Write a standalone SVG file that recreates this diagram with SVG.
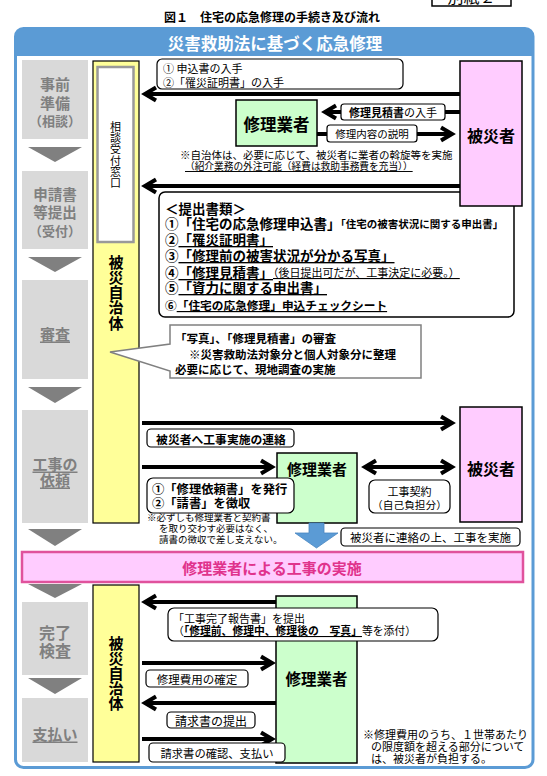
<svg xmlns="http://www.w3.org/2000/svg" width="547" height="776" viewBox="0 0 547 776">
<defs>
<style>
text{font-family:"Noto Sans CJK JP","Noto Sans",sans-serif;fill:#000;dominant-baseline:central}
.b{font-weight:bold}
.stage{fill:#d9d9d9}
.stxt{fill:#808080;font-weight:bold;text-anchor:middle}
.tri{fill:#808080}
.yel{fill:#ffff99;stroke:#000;stroke-width:1.2}
.grn{fill:#ccffcc;stroke:#000;stroke-width:1.5}
.pnk{fill:#ffccff;stroke:#000;stroke-width:1.5}
.lbl{fill:#fff;stroke:#000;stroke-width:1.2}
.arr{fill:none;stroke:#000;stroke-width:4;marker-end:url(#ah)}
.u{text-decoration:underline}
.mid{text-anchor:middle}
.vt{writing-mode:vertical-rl;text-anchor:middle}
</style>
<marker id="ah" viewBox="0 0 18 18" markerWidth="18" markerHeight="18" refX="14" refY="9" orient="auto-start-reverse" markerUnits="userSpaceOnUse" overflow="visible"><path d="M3,2.5 L14,9 L3,15.5" fill="none" stroke="#000" stroke-width="4"/></marker>
</defs>
<rect width="547" height="776" fill="#fff"/>

<g id="bessi">
<rect x="432" y="-20" width="79" height="26" fill="#fff" stroke="#000" stroke-width="1.5"/>
<text x="471.5" y="-4" class="mid" font-size="16">別紙２</text>
</g>
<text id="title" x="272" y="16" class="mid b" font-size="12">図１　住宅の応急修理の手続き及び流れ</text>

<g id="frame">
<rect x="15.5" y="28.5" width="517.5" height="739" rx="8" fill="#fff" stroke="#5b9bd5" stroke-width="3"/>
<path d="M15.5,36.5 Q15.5,28.5 23.5,28.5 H525 Q533,28.5 533,36.5 V56 H15.5 Z" fill="#5b9bd5"/>
<text x="275" y="43" class="mid b" font-size="16.5" style="fill:#fff">災害救助法に基づく応急修理</text>
</g>

<g id="stages">
<g id="stage-jizen"><rect class="stage" x="22" y="60" width="66" height="79"/>
<text class="stxt" x="55" y="83" font-size="15">事前</text><text class="stxt" x="55" y="102" font-size="15">準備</text><text class="stxt" x="55" y="120" font-size="13">（相談）</text></g>
<polygon class="tri" points="28,147 82,147 55,162"/>
<g id="stage-shinsei"><rect class="stage" x="22" y="171" width="66" height="78"/>
<text class="stxt" x="55" y="193" font-size="14.5">申請書</text><text class="stxt" x="55" y="211" font-size="14.5">等提出</text><text class="stxt" x="55" y="230" font-size="13">（受付）</text></g>
<polygon class="tri" points="28,257 82,257 55,272"/>
<g id="stage-shinsa"><rect class="stage" x="22" y="280" width="66" height="99"/>
<text class="stxt u" x="55" y="333" font-size="15">審査</text></g>
<polygon class="tri" points="28,387 82,387 55,403"/>
<g id="stage-irai"><rect class="stage" x="22" y="410" width="66" height="113"/>
<text class="stxt u" x="55" y="463" font-size="15">工事の</text><text class="stxt u" x="55" y="479" font-size="15">依頼</text></g>
<polygon class="tri" points="28,529 82,529 55,546"/>
<polygon class="tri" points="28,584 82,584 55,598"/>
<g id="stage-kanryo"><rect class="stage" x="22" y="602" width="66" height="73"/>
<text class="stxt" x="55" y="632" font-size="16">完了</text><text class="stxt" x="55" y="650" font-size="16">検査</text></g>
<polygon class="tri" points="28,678 82,678 55,694"/>
<g id="stage-shiharai"><rect class="stage" x="22" y="698" width="66" height="64"/>
<text class="stxt u" x="55" y="733" font-size="15">支払い</text></g>
</g>

<g id="jichitai-1">
<rect class="yel" x="93" y="61" width="46" height="462"/>
<rect x="97.5" y="67" width="36" height="175" fill="#fff" stroke="#999" stroke-width="2.5"/>
<text class="vt" x="115.5" y="155" font-size="11" letter-spacing="0.2">相談受付窓口</text>
<text class="vt b" x="116" y="292.6" font-size="15" letter-spacing="0.3">被災自治体</text>
</g>

<g id="jichitai-2">
<rect class="yel" x="93" y="585" width="46" height="177"/>
<text class="vt b" x="116" y="673.4" font-size="15" letter-spacing="0.2">被災自治体</text>
</g>

<g id="teishutsu">
<rect x="159" y="192" width="355" height="125" rx="6" fill="#fff" stroke="#000" stroke-width="1.5"/>
<text x="165" y="208" class="b" font-size="13.5">＜提出書類＞</text>
<text x="165" y="223" class="b" font-size="13.5">①「住宅の応急修理申込書」<tspan font-size="10.5">「住宅の被害状況に関する申出書」</tspan></text>
<text x="165" y="239" class="b" font-size="13.5">②<tspan class="u">「罹災証明書」</tspan></text>
<text x="165" y="255" class="b" font-size="13.5">③<tspan class="u">「修理前の被害状況が分かる写真」</tspan></text>
<text x="165" y="272" class="b" font-size="13.5">④<tspan class="u">「修理見積書」</tspan><tspan class="u" font-size="11" font-weight="normal">（後日提出可だが、工事決定に必要。）</tspan></text>
<text x="165" y="287" class="b" font-size="13.5">⑤<tspan class="u">「資力に関する申出書」</tspan></text>
<text x="165" y="304" class="b" font-size="11.7">⑥<tspan class="u">「住宅の応急修理」申込チェックシート</tspan></text>
</g>

<g id="shinsa-callout">
<path d="M170,325 H421 V378 H170 V371 L110,352 L170,344 Z" fill="#fff" stroke="#808080" stroke-width="1.5"/>
<text x="175" y="338" class="b" font-size="11.5">「写真」、「修理見積書」の審査</text>
<text x="189" y="354" class="b" font-size="11.5">※災害救助法対象分と個人対象分に整理</text>
<text x="175" y="369" class="b" font-size="11.5">必要に応じて、現地調査の実施</text>
</g>

<g id="hisaisha-1"><rect class="pnk" x="460" y="61" width="62" height="145"/>
<text x="491" y="135" class="mid b" font-size="16">被災者</text></g>
<g id="hisaisha-2"><rect class="pnk" x="460" y="407" width="62" height="115"/>
<text x="491" y="468" class="mid b" font-size="16">被災者</text></g>

<g id="gyosha-1"><rect class="grn" x="236" y="100" width="81" height="46"/>
<text x="276.5" y="124" class="mid b" font-size="16.5">修理業者</text></g>

<text x="147" y="517" font-size="9.5">※必ずしも修理業者と契約書</text>
<text x="159" y="528" font-size="9.5">を取り交わす必要はなく、</text>
<text x="159" y="538.5" font-size="9.5">請書の徴収で差し支えない。</text>

<g id="gyosha-2"><rect class="grn" x="277" y="453" width="80" height="70"/>
<text x="317" y="468" class="mid b" font-size="15">修理業者</text></g>
<g id="gyosha-3"><rect class="grn" x="276" y="596" width="81" height="167"/>
<text x="316.5" y="678" class="mid b" font-size="15.5">修理業者</text></g>

<g id="koji-jisshi">
<rect x="22" y="552" width="501" height="30" fill="#ffccff" stroke="#e0529c" stroke-width="2.5"/>
<text x="272" y="567" class="mid b" font-size="15" style="fill:#e0338c">修理業者による工事の実施</text>
</g>

<g id="connectors">
<path class="arr" d="M460,94 H145"/>
<path class="arr" d="M460,112 H325"/>
<path class="arr" d="M317,134 H452"/>
<path class="arr" d="M460,186 H145"/>
<path class="arr" d="M142,423 H452"/>
<path class="arr" d="M142,467 H272"/>
<path class="arr" d="M365,467 H452" style="marker-start:url(#ah)"/>
<path class="arr" d="M276,602 H145"/>
<path class="arr" d="M142,663 H272"/>
<path class="arr" d="M276,703 H145"/>
<path class="arr" d="M142,739 H272"/>
<polygon points="309,523 324,523 324,533 338,533 316.5,548 295,533 309,533" fill="#5b9bd5" stroke="#4a86c0" stroke-width="0.8"/>

<rect class="lbl" x="157" y="59" width="246" height="30" rx="5"/>
<text x="163" y="68" font-size="11">① 申込書の入手</text>
<text x="163" y="82" font-size="11">②「罹災証明書」の入手</text>

<rect class="lbl" x="341" y="104" width="104" height="16" rx="3"/>
<text x="349" y="112" font-size="11"><tspan class="b">修理見積書</tspan>の入手</text>
<rect class="lbl" x="327" y="125" width="90" height="17" rx="3"/>
<text x="372" y="133.5" class="mid" font-size="10.5">修理内容の説明</text>

<text x="180" y="154" font-size="10.5">※自治体は、必要に応じて、被災者に業者の斡旋等を実施</text>
<text x="185" y="166" font-size="9.7" class="u">（紹介業務の外注可能（経費は救助事務費を充当））</text>

<rect class="lbl" x="147" y="429" width="147" height="18" rx="4"/>
<text x="221" y="438.5" class="mid b" font-size="11.8">被災者へ工事実施の連絡</text>

<rect class="lbl" x="147" y="478" width="147" height="35" rx="6"/>
<text x="152" y="489" class="b" font-size="12.3">①「修理依頼書」を発行</text>
<text x="152" y="503" class="b" font-size="12.3">②「請書」を徴収</text>

<rect class="lbl" x="369" y="480" width="81" height="33" rx="6"/>
<text x="409.5" y="491" class="mid" font-size="11">工事契約</text>
<text x="409.5" y="504" class="mid" font-size="10.7">（自己負担分）</text>

<rect class="lbl" x="341" y="528" width="179" height="18" rx="4"/>
<text x="430.5" y="537" class="mid" font-size="11.5">被災者に連絡の上、工事を実施</text>

<rect class="lbl" x="168" y="608" width="270" height="33" rx="6"/>
<text x="173" y="618" font-size="11">「工事完了報告書」を提出</text>
<text x="173" y="630" font-size="10.8">（<tspan class="b u">「修理前、修理中、修理後の　写真」</tspan>等を添付）</text>

<rect class="lbl" x="146" y="670" width="102" height="17" rx="4"/>
<text x="197" y="678.5" class="mid" font-size="11.5">修理費用の確定</text>
<rect class="lbl" x="167" y="712" width="88" height="16" rx="4"/>
<text x="211" y="720" class="mid" font-size="12">請求書の提出</text>
<rect class="lbl" x="149" y="743" width="136" height="19" rx="4"/>
<text x="217" y="752.5" class="mid" font-size="11.3">請求書の確認、支払い</text>
</g>

<g id="note-futan">
<text x="363" y="734" font-size="11">※修理費用のうち、１世帯あたり</text>
<text x="371" y="746" font-size="11">の限度額を超える部分について</text>
<text x="371" y="757.5" font-size="11">は、被災者が負担する。</text>
</g>
</svg>
